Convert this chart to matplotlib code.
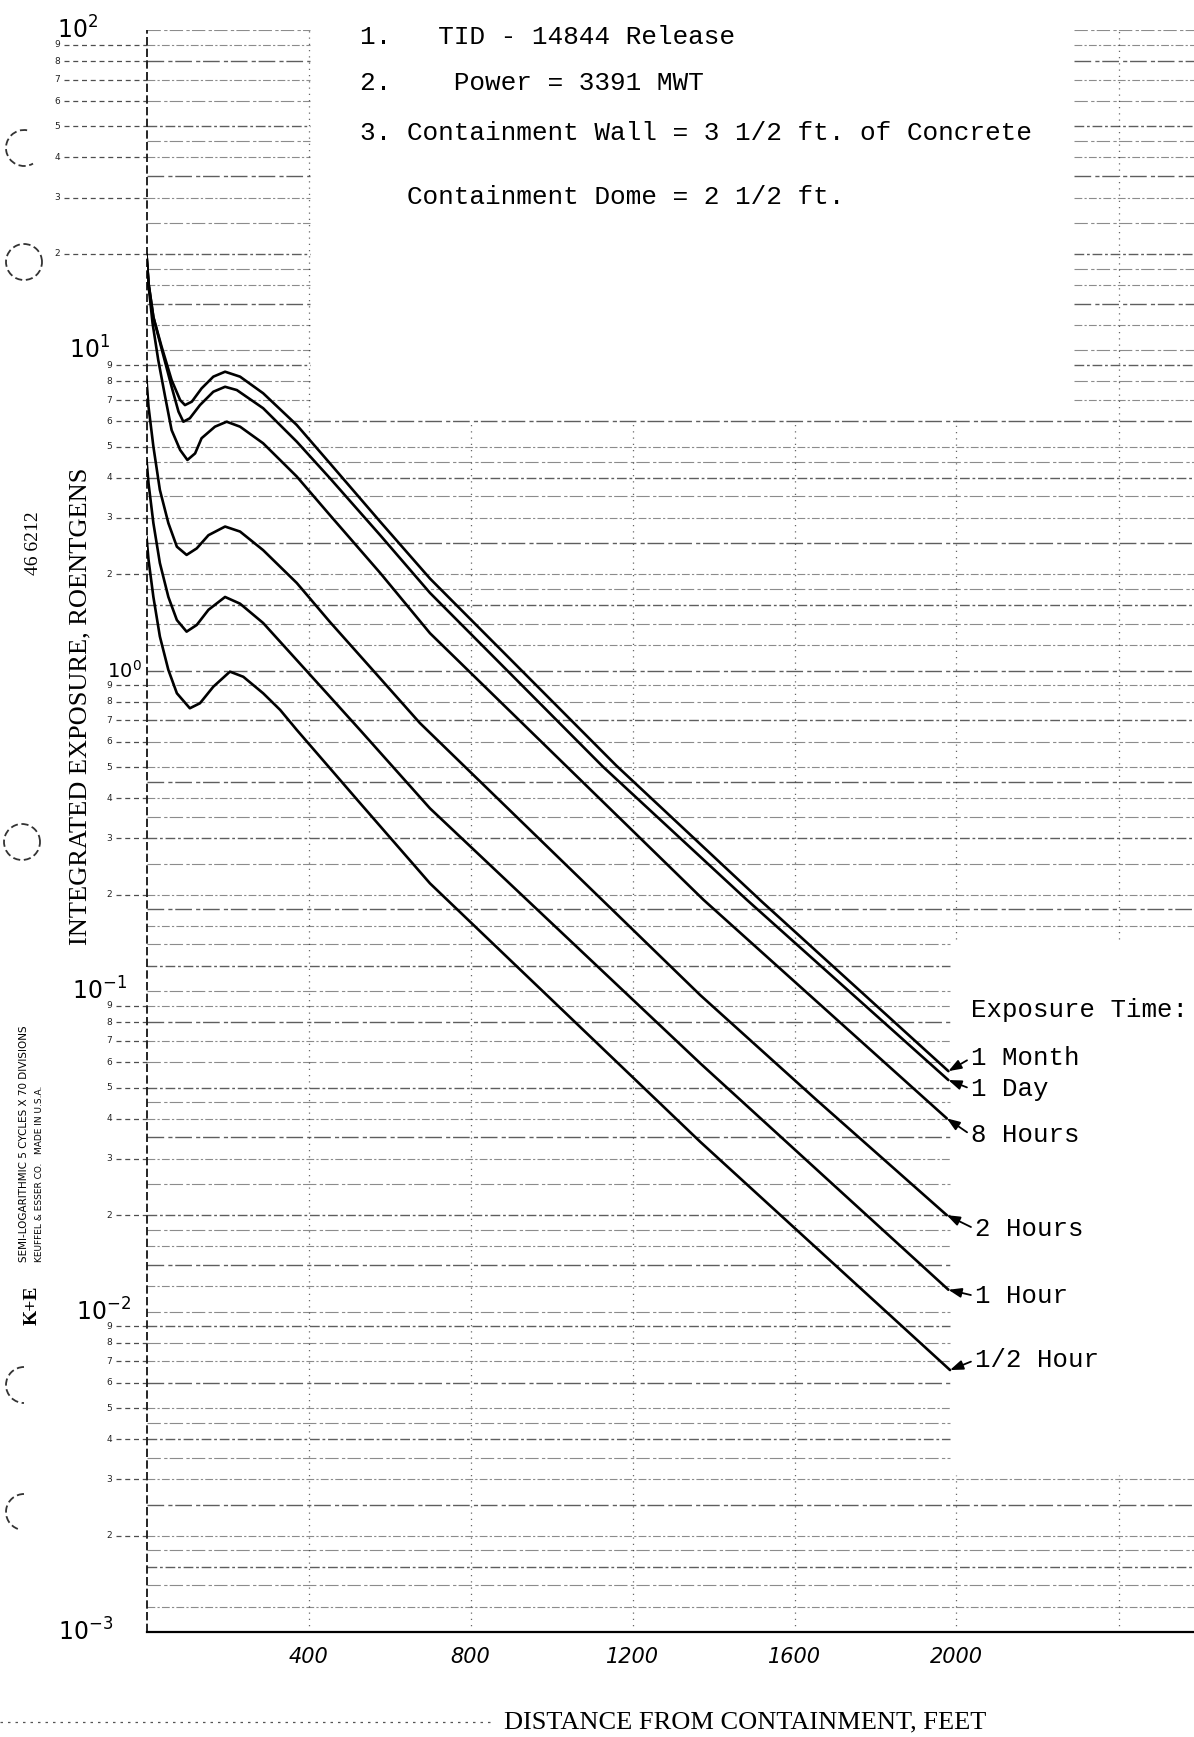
import math
import matplotlib
matplotlib.use("Agg")
import matplotlib.pyplot as plt
from matplotlib import transforms
from matplotlib.patches import Arc
from matplotlib.lines import Line2D

W, H = 1194, 1737

# ---------------- data ----------------
month_x = [0, 5, 17, 37, 62, 83, 95, 112, 136, 165, 194, 231, 288, 371, 453, 577, 700, 1160, 1520, 1980]
month_y = [19.9, 16.2, 12.7, 10.3, 8.08, 7.00, 6.75, 6.92, 7.61, 8.28, 8.58, 8.28, 7.35, 5.85, 4.44, 2.92, 1.94,
           0.506, 0.190, 0.0563]

day_x = [0, 5, 17, 37, 62, 79, 91, 107, 132, 165, 194, 223, 288, 371, 453, 577, 700, 1127, 1482, 1980]
day_y = [19.9, 16.2, 12.7, 10.15, 7.70, 6.44, 5.99, 6.14, 6.75, 7.43, 7.70, 7.52, 6.60, 5.19, 3.99, 2.65, 1.75,
         0.502, 0.193, 0.0528]

h8_x = [0, 5, 15, 29, 46, 62, 83, 101, 120, 136, 169, 198, 231, 288, 371, 453, 577, 700, 1375, 1976]
h8_y = [19.9, 16.0, 12.15, 9.33, 7.17, 5.64, 4.89, 4.55, 4.77, 5.32, 5.78, 5.99, 5.78, 5.13, 4.04, 3.06, 2.02,
        1.31, 0.193, 0.0401]

h2_x = [0, 5, 17, 33, 54, 75, 99, 124, 153, 194, 231, 288, 371, 453, 577, 675, 1367, 1655, 1976]
h2_y = [8.08, 6.67, 5.01, 3.67, 2.89, 2.44, 2.30, 2.41, 2.65, 2.82, 2.72, 2.38, 1.88, 1.42, 0.947, 0.687,
        0.0973, 0.0457, 0.0200]

h1_x = [0, 5, 17, 33, 54, 75, 99, 124, 153, 194, 231, 288, 371, 453, 527, 700, 1367, 1980]
h1_y = [4.55, 3.85, 2.89, 2.17, 1.70, 1.44, 1.325, 1.39, 1.55, 1.70, 1.62, 1.41, 1.08, 0.830, 0.654, 0.372,
        0.0596, 0.0117]

hh_x = [0, 5, 17, 33, 54, 75, 107, 132, 165, 206, 239, 288, 330, 371, 530, 700, 1367, 1984]
hh_y = [2.62, 2.22, 1.70, 1.28, 1.006, 0.851, 0.764, 0.792, 0.892, 0.994, 0.958, 0.851, 0.755, 0.654, 0.383,
        0.217, 0.0339, 0.00657]

series_names = ["1 Month", "1 Day", "8 Hours", "2 Hours", "1 Hour", "1/2 Hour"]
series_x = [month_x, day_x, h8_x, h2_x, h1_x, hh_x]
series_y = [month_y, day_y, h8_y, h2_y, h1_y, hh_y]

xtick_values = [400, 800, 1200, 1600, 2000]
xtick_labels = ["400", "800", "1200", "1600", "2000"]
decade_values = [1e2, 1e1, 1e0, 1e-1, 1e-2, 1e-3]
decade_exps = ["2", "1", "0", "-1", "-2", "-3"]
minor_digits = [2, 3, 4, 5, 6, 7, 8, 9]

notes = ["1.   TID - 14844 Release",
         "2.    Power = 3391 MWT",
         "3. Containment Wall = 3 1/2 ft. of Concrete",
         "   Containment Dome = 2 1/2 ft."]
legend_title = "Exposure Time:"
x_label = "DISTANCE FROM CONTAINMENT, FEET"
y_label = "INTEGRATED EXPOSURE, ROENTGENS"

# ---------------- figure ----------------
fig = plt.figure(figsize=(W / 100, H / 100), dpi=100)
fig.patch.set_facecolor("white")

X0, X1 = 146.5, 1194.0
Y_TOP, Y_BOT = 30.0, 1632.0
ax = fig.add_axes([X0 / W, 1 - Y_BOT / H, (X1 - X0) / W, (Y_BOT - Y_TOP) / H])
XMAX = (X1 - X0) * 400.0 / 162.0
ax.set_xlim(0, XMAX)
ax.set_yscale("log")
ax.set_ylim(1e-3, 1e2)
ax.set_facecolor("white")
for s in ax.spines.values():
    s.set_visible(False)
ax.tick_params(axis="y", which="both", left=False, labelleft=False)
ax.yaxis.set_minor_formatter(matplotlib.ticker.NullFormatter())

# ---- semilog paper grid ----
subs = [1, 1.2, 1.4, 1.6, 1.8, 2, 2.5, 3, 3.5, 4, 4.5, 5, 6, 7, 8, 9]
grid_vals = []
for e in range(-3, 2):
    for s in subs:
        grid_vals.append(s * 10.0 ** e)
grid_vals.append(100.0)


def h_segments(v):
    if v > 6.05:
        return [(0, 404), (2290, XMAX)]
    if 0.0031 < v < 0.145:
        return [(0, 1985)]
    return [(0, XMAX)]


for i, v in enumerate(grid_vals):
    heavy = (i % 3 == 0)
    for a, b in h_segments(v):
        ax.plot([a, b], [v, v], color="#1a1a1a", lw=1.0 if heavy else 0.8,
                ls=(0, (7, 2, 2, 2)) if i % 2 else (0, (12, 3, 3, 2)),
                alpha=0.7 if heavy else 0.5, zorder=1)

for xv in [400, 800, 1200, 1600, 2000, 2400]:
    top = 6.05 if 404 < xv < 2290 else 100
    if xv > 1985:
        segs = [(1e-3, 0.0031), (0.145, top)]
    else:
        segs = [(1e-3, top)]
    for lo, hi in segs:
        ax.plot([xv, xv], [lo, hi], color="#333333", lw=0.9, ls=(0, (1, 4)), alpha=0.75, zorder=1)

# axis borders
ax.plot([0, 0], [1e-3, 1e2], color="black", lw=1.2, ls=(0, (5, 2)), zorder=2, clip_on=False)
ax.plot([0, XMAX], [1e-3, 1e-3], color="black", lw=1.6, zorder=2, clip_on=False)

# ---- curves ----
for xs, ys in zip(series_x, series_y):
    ax.plot(xs, ys, color="black", lw=1.9, solid_capstyle="round", solid_joinstyle="round", zorder=3)

# ---- x ticks ----
ax.set_xticks(xtick_values)
ax.set_xticklabels(xtick_labels)
ax.tick_params(axis="x", length=0, pad=11, labelsize=15)
for lbl in ax.get_xticklabels():
    lbl.set_fontstyle("italic")
    lbl.set_family("DejaVu Sans")

# ---- y labels (handwritten decades + printed minor digits) ----
bt = transforms.blended_transform_factory(ax.transAxes, ax.transData)
px = 1.0 / (X1 - X0)  # axes-fraction per pixel
dec_right = {"2": 98, "1": 110, "0": 142, "-1": 127, "-2": 131, "-3": 113}
dec_size = {"2": 17, "1": 17, "0": 14, "-1": 17, "-2": 17, "-3": 17}
for v, e in zip(decade_values, decade_exps):
    xr = (dec_right[e] - X0) * px
    ax.text(xr, v, r"$\mathit{10}^{\mathit{%s}}$" % e, transform=bt, ha="right", va="center",
            fontsize=dec_size[e], clip_on=False)
for e in range(-3, 2):
    lab_x = 60 if e == 1 else 112
    for m in minor_digits:
        v = m * 10.0 ** e
        ax.text((lab_x - X0) * px, v, str(m), transform=bt, ha="right", va="center",
                fontsize=6.5, color="#222222", clip_on=False)
        ax.plot([(lab_x + 4 - X0) * px, 0], [v, v], transform=bt, color="#222222", lw=0.9,
                ls=(0, (4, 3)), clip_on=False, alpha=0.8)

# ---- exposure time labels with arrows ----
lab_pos = [(971, 1058), (971, 1089), (971, 1135), (975, 1229), (975, 1296), (975, 1360)]
mono = "Liberation Mono"
fig.text(971 / W, 1 - 1010 / H, legend_title, family=mono, fontsize=18.5, ha="left", va="center")
for name, xs, ys, (lx, ly) in zip(series_names, series_x, series_y, lab_pos):
    ax.annotate(name, xy=(xs[-1], ys[-1]), xytext=(lx / W, 1 - ly / H), textcoords="figure fraction",
                family=mono, fontsize=18.5, ha="left", va="center",
                arrowprops=dict(arrowstyle="-|>,head_length=0.6,head_width=0.22", color="black", lw=1.3,
                                shrinkA=1, shrinkB=0, relpos=(0, 0.5), mutation_scale=13))

# ---- notes ----
note_pos = [(360, 37), (360, 83), (360, 133), (360, 197)]
for t, (nx, ny) in zip(notes, note_pos):
    fig.text(nx / W, 1 - ny / H, t, family=mono, fontsize=18.8, ha="left", va="center")

# ---- axis titles ----
fig.text(80 / W, 1 - 706 / H, y_label, family="Liberation Serif", fontsize=19, rotation=90,
         ha="center", va="center")
fig.text(745 / W, 1 - 1722 / H, x_label, family="Liberation Serif", fontsize=19, ha="center", va="center")
fig.add_artist(Line2D([0, 493 / W], [1 - 1722 / H] * 2, transform=fig.transFigure, color="#555555",
                      lw=0.9, ls=(0, (2, 4))))

# ---- paper margin printing ----
fig.text(33 / W, 1 - 543 / H, "46 6212", family="Liberation Serif", fontsize=14, rotation=90,
         ha="center", va="center")
fig.text(24 / W, 1 - 1262 / H, "SEMI-LOGARITHMIC 5 CYCLES X 70 DIVISIONS", family="DejaVu Sans",
         fontsize=7.5, rotation=90, rotation_mode="anchor", ha="left", va="center")
fig.text(39 / W, 1 - 1262 / H, "KEUFFEL & ESSER CO.   MADE IN U.S.A.", family="DejaVu Sans",
         fontsize=6.5, rotation=90, rotation_mode="anchor", ha="left", va="center")
fig.text(32 / W, 1 - 1305 / H, "K+E", family="Liberation Serif", fontsize=14, weight="bold",
         rotation=90, ha="center", va="center")

holes = [(24, 148, 80, 300), (24, 262, 0, 360), (22, 842, 0, 360), (24, 1385, 90, 270), (24, 1512, 90, 250)]
for cx, cy, t1, t2 in holes:
    fig.add_artist(Arc((cx / 100, (H - cy) / 100), 0.36, 0.36, theta1=t1, theta2=t2,
                       transform=fig.dpi_scale_trans, color="#333333", lw=1.3, ls=(0, (4, 2))))

fig.savefig("out.png", dpi=100, facecolor="white")
